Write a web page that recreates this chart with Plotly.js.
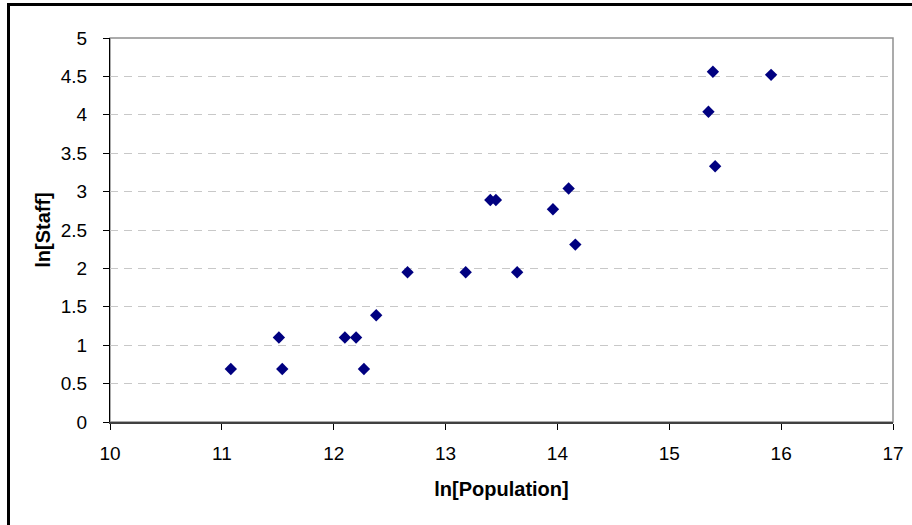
<!DOCTYPE html>
<html>
<head>
<meta charset="utf-8">
<script src="https://cdn.plot.ly/plotly-3.0.1.min.js"></script>
<style>
html,body{margin:0;padding:0;background:#fff;overflow:hidden;}
#wrap{position:relative;width:912px;height:525px;}
#chart{position:absolute;left:0;top:0;width:912px;height:525px;}
#frame{position:absolute;left:7px;top:3px;width:1000px;height:1000px;border-top:3px solid #000;border-left:3px solid #000;pointer-events:none;}
</style>
</head>
<body>
<div id="wrap"><div id="chart"></div><div id="frame"></div></div>
<script>
const lnPopulation = [11.08, 11.51, 11.54, 12.10, 12.20, 12.27, 12.38, 12.66, 13.18, 13.40, 13.45, 13.64, 13.96, 14.10, 14.16, 15.35, 15.39, 15.41, 15.91];
const lnStaff      = [0.69, 1.10, 0.69, 1.10, 1.10, 0.69, 1.39, 1.95, 1.95, 2.89, 2.89, 1.95, 2.77, 3.04, 2.31, 4.04, 4.56, 3.33, 4.52];
const xTicks = [10, 11, 12, 13, 14, 15, 16, 17];
const yTicks = [0, 0.5, 1, 1.5, 2, 2.5, 3, 3.5, 4, 4.5, 5];

const font = 'Liberation Sans, Arial, sans-serif';
Plotly.newPlot('chart', [{
  x: lnPopulation, y: lnStaff, type: 'scatter', mode: 'markers',
  marker: {symbol: 'diamond', size: 9.5, color: '#000080'},
  hoverinfo: 'x+y'
}], {
  width: 912, height: 525,
  margin: {l: 110, r: 19, t: 38, b: 103},
  paper_bgcolor: '#fff', plot_bgcolor: '#fff',
  showlegend: false,
  xaxis: {
    range: [10, 17], tickvals: xTicks, ticktext: xTicks.map(String),
    showgrid: false, zeroline: false,
    showline: true, linecolor: '#404040', linewidth: 2,
    ticks: 'outside', ticklen: 6, tickcolor: '#000', tickwidth: 1,
    ticklabelstandoff: 7,
    tickfont: {family: font, size: 19, color: '#000'},
    title: {text: 'ln[Population]', font: {family: font, size: 20, color: '#000', weight: 'bold'}, standoff: 19}
  },
  yaxis: {
    range: [0, 5], tickvals: yTicks, ticktext: yTicks.map(String),
    showgrid: true, gridcolor: '#c8c8c8', griddash: '8px,6px', gridwidth: 1,
    zeroline: false,
    showline: true, linecolor: '#000', linewidth: 1,
    ticks: 'outside', ticklen: 6, tickcolor: '#000', tickwidth: 1,
    ticklabelstandoff: 12,
    tickfont: {family: font, size: 19, color: '#000'},
    title: {text: 'ln[Staff]', font: {family: font, size: 20, color: '#000', weight: 'bold'}, standoff: 4}
  },
  shapes: [{
    type: 'rect', xref: 'paper', yref: 'paper', x0: 0, x1: 1, y0: 0, y1: 1,
    line: {color: '#909090', width: 1.5}, layer: 'below'
  }]
}, {displayModeBar: false, staticPlot: true});
</script>
</body>
</html>
